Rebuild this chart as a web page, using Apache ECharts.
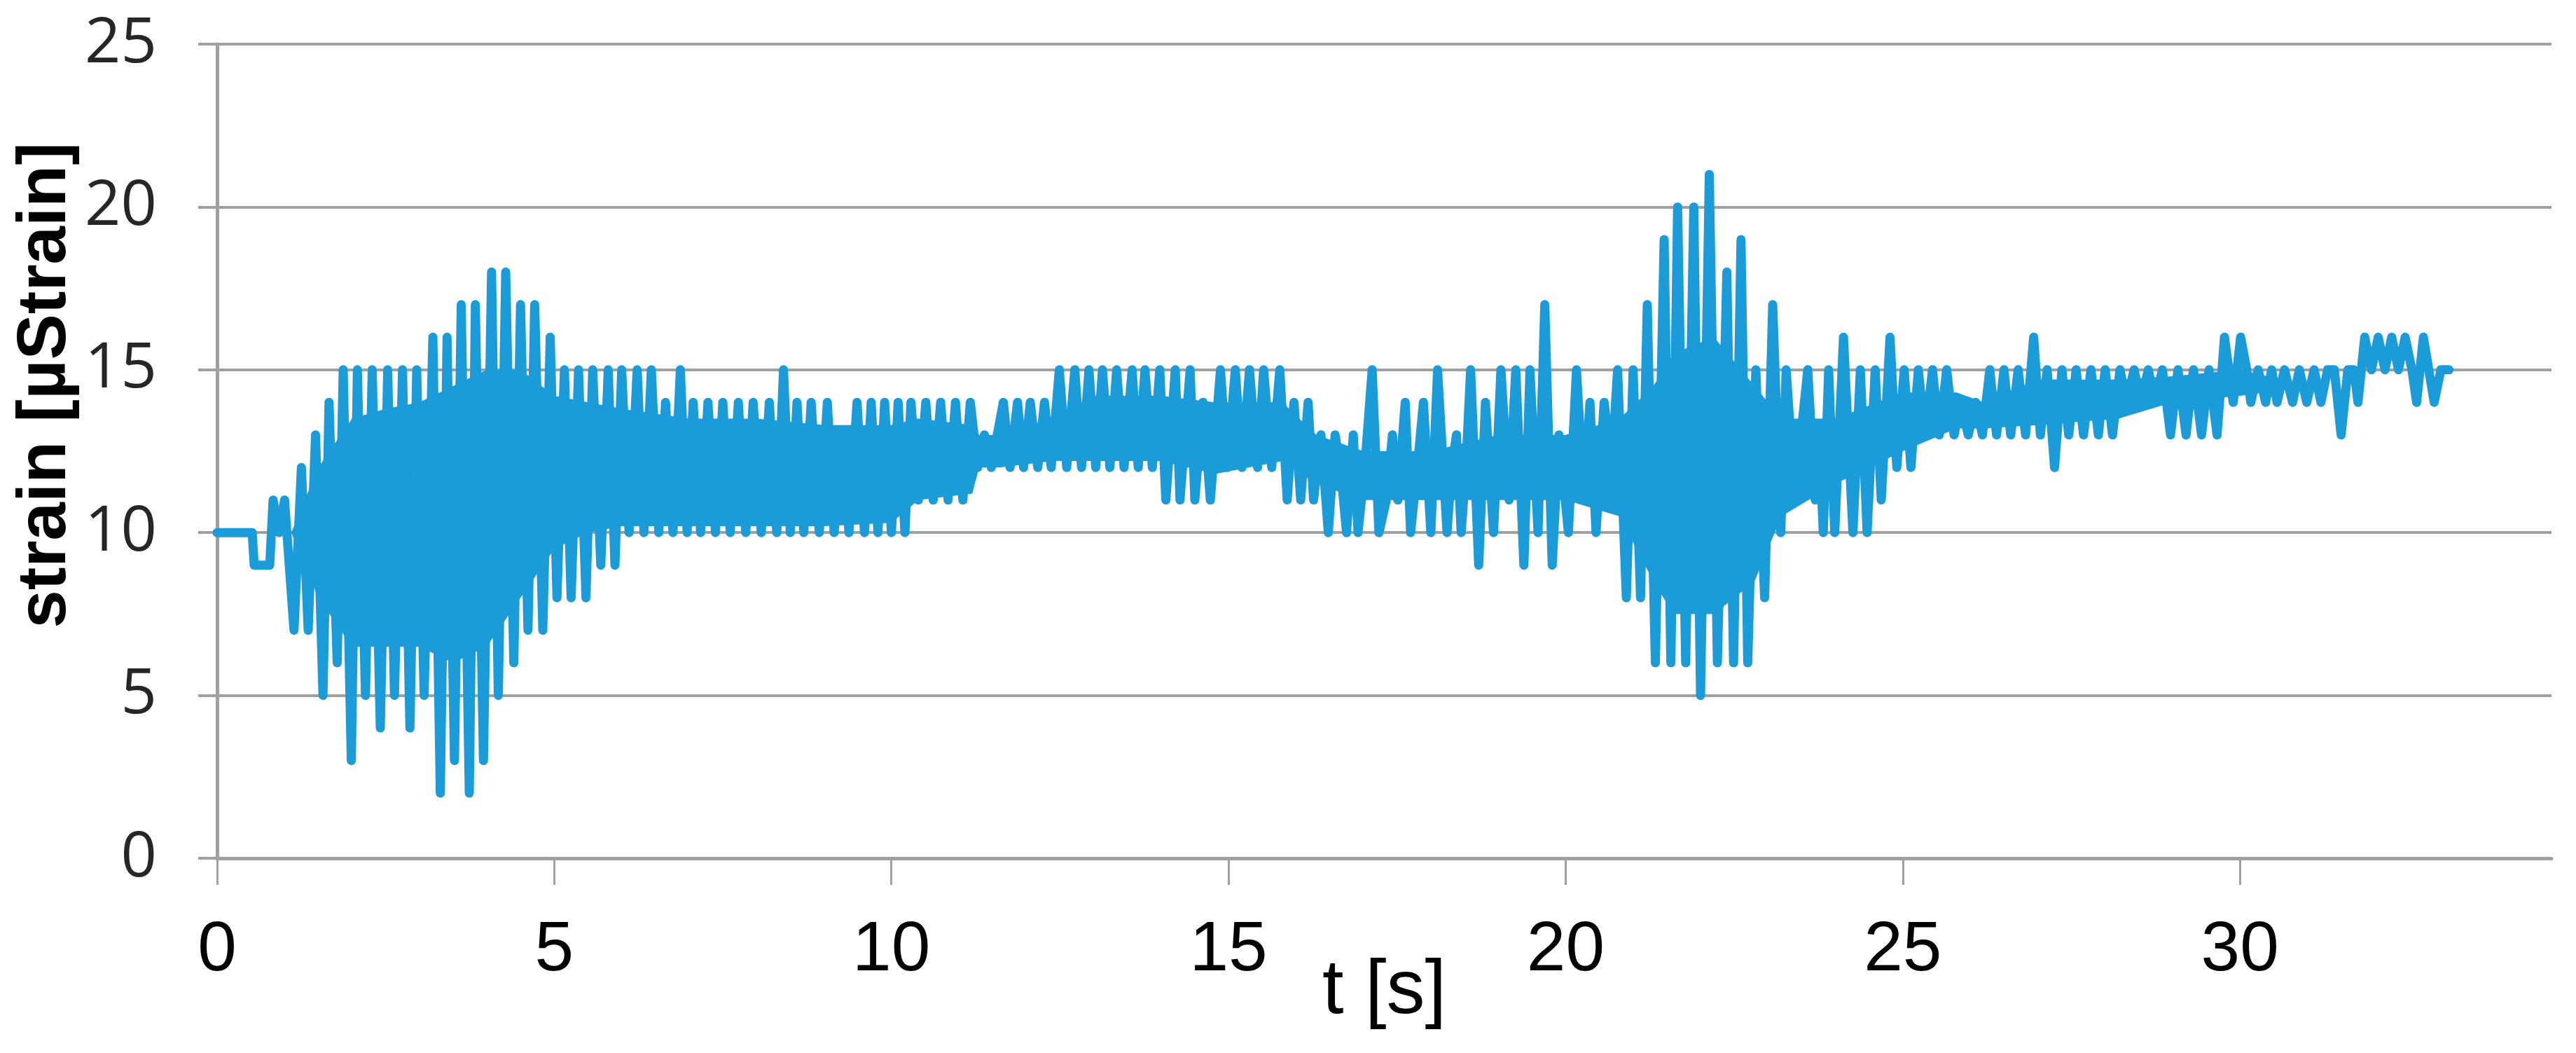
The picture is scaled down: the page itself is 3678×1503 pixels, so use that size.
<!DOCTYPE html>
<html>
<head>
<meta charset="utf-8">
<script src="https://cdn.jsdelivr.net/npm/echarts@6.0.0/dist/echarts.min.js"></script>
<style>
  html, body { margin: 0; padding: 0; background: #fff; }
  #main { width: 3678px; height: 1503px; }
</style>
</head>
<body>
<div id="main"></div>
<script>
// time [s] of each vertex
const timeS = [
  0.00, 0.52, 0.55, 0.78, 0.83, 0.92, 1.00,
  1.14, 1.25, 1.35, 1.46, 1.57, 1.66, 1.78, 1.87, 1.99, 2.08, 2.20, 2.30, 2.42, 2.53, 2.63, 2.75, 2.86, 2.96,
  3.07, 3.20, 3.31, 3.41, 3.52, 3.62, 3.74, 3.83, 3.95, 4.07, 4.17, 4.28, 4.40, 4.50, 4.61, 4.71, 4.83, 4.94,
  5.04, 5.15, 5.25, 5.36, 5.47, 5.57, 5.69, 5.80, 5.90, 6.00,
  6.11, 6.23, 6.33, 6.44, 6.55, 6.65, 6.76, 6.87, 6.97, 7.06, 7.17, 7.28, 7.39, 7.50, 7.61, 7.73, 7.84, 7.95,
  8.07, 8.19, 8.30, 8.40, 8.50, 8.60, 8.70, 8.81, 8.93, 9.05, 9.15, 9.26, 9.37, 9.49, 9.60, 9.70, 9.80, 9.90,
  10.00, 10.10, 10.20, 10.29, 10.40, 10.51, 10.62, 10.73, 10.84, 10.95, 11.06, 11.17,
  11.28, 11.38, 11.48, 11.57, 11.66, 11.76, 11.87, 11.96, 12.06, 12.17, 12.27, 12.37,
  12.49, 12.60, 12.72, 12.82, 12.93, 13.03, 13.13, 13.24, 13.34, 13.45, 13.57, 13.66, 13.76, 13.87, 13.98,
  14.07, 14.21, 14.28, 14.43, 14.50, 14.62, 14.73, 14.88, 14.98,
  15.10, 15.20, 15.31, 15.43, 15.52, 15.64, 15.76, 15.87, 15.97, 16.07, 16.18, 16.26,
  16.37, 16.48, 16.58, 16.66, 16.75, 16.85, 16.92, 17.02, 17.13, 17.23, 17.34, 17.43, 17.51, 17.62, 17.70, 17.80, 17.89,
  18.00, 18.10, 18.24, 18.31, 18.38, 18.45, 18.52, 18.59, 18.71, 18.81, 18.93,
  19.04, 19.16, 19.26, 19.38, 19.47, 19.59, 19.69, 19.80, 19.90,
  20.04, 20.16, 20.27, 20.36, 20.45, 20.57, 20.68, 20.77, 20.90,
  21.00, 21.11, 21.21, 21.33, 21.46, 21.56, 21.66, 21.78, 21.90,
  22.00, 22.13, 22.25, 22.39, 22.49, 22.60, 22.70, 22.82, 22.95,
  23.07, 23.19, 23.27, 23.40, 23.49, 23.59, 23.70, 23.76, 23.82, 23.90, 23.99,
  24.12, 24.26, 24.37, 24.47, 24.59, 24.68, 24.81, 24.91,
  25.02, 25.12, 25.23, 25.33, 25.44, 25.54, 25.65, 25.76, 25.86, 25.97,
  26.08, 26.18, 26.29, 26.39, 26.50, 26.60, 26.71, 26.82, 26.94,
  27.04, 27.14, 27.25, 27.36, 27.46, 27.57, 27.68, 27.79, 27.90,
  28.00, 28.11, 28.22, 28.32, 28.43, 28.53, 28.64, 28.74, 28.85, 28.97,
  29.08, 29.20, 29.31, 29.43, 29.54, 29.66, 29.77, 29.90,
  30.01, 30.10, 30.16, 30.27, 30.38, 30.47, 30.55, 30.66, 30.78, 30.88, 30.99,
  31.10, 31.20, 31.30, 31.40, 31.50, 31.60, 31.69, 31.75, 31.85, 31.95,
  32.05, 32.15, 32.25, 32.35, 32.45, 32.55, 32.62, 32.72, 32.80, 32.88, 32.98,
  33.10
]

// strain [µStrain] at each vertex
const strain = [
  10, 10, 9, 9, 11, 10, 11,
  7, 12, 7, 13, 5, 14, 6, 15, 3, 15, 5, 15, 4, 15, 5, 15, 4, 15,
  5, 16, 2, 16, 3, 17, 2, 17, 3, 18, 5, 18, 6, 17, 7, 17, 7, 16,
  8, 15, 8, 15, 8, 15, 9, 15, 9, 15,
  10, 15, 10, 15, 10, 14, 10, 15, 10, 14, 10, 14, 10, 14, 10, 14, 10, 14,
  10, 14, 10, 15, 10, 14, 10, 14, 10, 14, 10, 13, 10, 14, 10, 14, 10, 14,
  10, 14, 10, 14, 11, 14, 11, 14, 11, 14, 11, 14,
  12, 13, 12, 13, 14, 12, 14, 12, 14, 12, 14, 12,
  15, 12, 15, 12, 15, 12, 15, 12, 15, 12, 15, 12, 15, 12, 15,
  11, 15, 11, 15, 11, 14, 11, 15, 12,
  15, 12, 15, 12, 15, 12, 15, 11, 14, 11, 14, 11,
  13, 10, 13, 12, 10, 13, 10, 12, 15, 10, 11, 13, 11, 14, 10, 12, 14,
  10, 15, 10, 12, 13, 10, 12, 15, 9, 14, 10,
  15, 11, 15, 9, 15, 10, 17, 9, 13,
  10, 15, 11, 14, 10, 14, 12, 15, 8,
  15, 8, 17, 6, 19, 6, 20, 6, 20,
  5, 21, 6, 18, 6, 19, 6, 15, 8,
  17, 10, 15, 11, 13, 15, 11, 13, 10, 15, 10,
  16, 10, 15, 10, 15, 11, 16, 12,
  15, 12, 15, 13, 15, 13, 15, 13, 14, 13,
  14, 13, 15, 13, 15, 13, 15, 13, 16,
  13, 15, 12, 15, 13, 15, 13, 15, 13,
  15, 13, 15, 14, 15, 14, 15, 14, 15, 13,
  15, 13, 15, 13, 15, 13, 16, 14,
  16, 15, 14, 15, 14, 15, 14, 15, 14, 15, 14,
  15, 14, 15, 15, 13, 15, 15, 14, 16, 15,
  16, 15, 16, 15, 16, 15, 14, 16, 15, 14, 15,
  15
]

// the solid part of the trace where the samples are too dense to tell apart
const coreTime = [1.10, 1.50, 2.00, 2.50, 3.00, 3.50, 4.00, 4.50, 5.00, 5.50, 6.00, 7.00, 8.00, 9.00, 10.00, 10.40,
  11.20, 11.30, 11.60, 12.40, 13.00, 14.00, 14.80, 15.80, 16.30, 17.00, 18.00, 19.00, 20.00, 20.80, 21.30, 21.60,
  22.20, 22.80, 23.20, 24.00, 25.00, 25.80, 26.20, 27.00, 28.20, 29.00, 30.00, 31.00]
const coreLow = [10.0, 8.0, 6.5, 6.5, 6.5, 6.0, 6.5, 8.0, 9.5, 10.0, 10.2, 10.2, 10.2, 10.2, 10.3, 11.0,
  11.2, 12.0, 12.0, 12.2, 12.2, 12.2, 11.8, 12.2, 11.5, 11.0, 11.0, 11.0, 11.0, 10.5, 8.5, 7.5,
  7.5, 8.5, 10.5, 11.5, 12.5, 13.2, 13.2, 13.3, 13.5, 14.0, 14.2, 14.5]
const coreHigh = [10.0, 12.0, 13.5, 13.8, 14.0, 14.5, 15.0, 15.0, 14.2, 14.0, 13.8, 13.5, 13.5, 13.3, 13.3, 13.5,
  13.3, 13.0, 13.0, 13.5, 14.2, 14.2, 14.0, 14.0, 13.0, 12.5, 12.5, 13.0, 13.0, 13.5, 14.5, 15.5,
  16.0, 14.5, 13.5, 13.5, 14.3, 14.3, 14.0, 14.7, 14.7, 14.8, 15.0, 14.5]

const xTicks = [0, 5, 10, 15, 20, 25, 30]

const lineColor = '#1b9cd8'

const myChart = echarts.init(document.getElementById('main'))

const option = {
  animation: false,
  backgroundColor: '#ffffff',
  grid: {
    left: 310,
    right: 35,
    top: 63,
    bottom: 278,
    outerBoundsMode: 'none'
  },
  xAxis: {
    type: 'value',
    min: 0,
    max: 34.62,
    name: 't [s]',
    nameLocation: 'middle',
    nameGap: 136,
    nameMoveOverlap: false,
    nameTextStyle: {
      fontFamily: 'Liberation Sans',
      fontSize: 110,
      color: '#000'
    },
    axisLine: { show: true, lineStyle: { color: '#a0a0a0', width: 5 } },
    axisTick: {
      show: true,
      inside: false,
      length: 38,
      customValues: xTicks,
      lineStyle: { color: '#a0a0a0', width: 3 }
    },
    axisLabel: {
      customValues: xTicks,
      margin: 82,
      fontFamily: "'Liberation Sans Narrow', 'Arial Narrow', 'Liberation Sans'",
      fontSize: 100,
      color: '#000'
    },
    splitLine: { show: false }
  },
  yAxis: {
    type: 'value',
    min: 0,
    max: 25,
    interval: 5,
    name: 'strain [µStrain]',
    nameLocation: 'middle',
    nameGap: 195,
    nameMoveOverlap: false,
    nameTextStyle: {
      fontFamily: 'Liberation Sans',
      fontWeight: 'bold',
      fontSize: 98,
      color: '#000',
      padding: [0, 0, 0, 188]
    },
    axisLine: { show: true, lineStyle: { color: '#a0a0a0', width: 5 } },
    axisTick: {
      show: true,
      inside: false,
      length: 27,
      lineStyle: { color: '#a0a0a0', width: 4 }
    },
    axisLabel: {
      margin: 86,
      fontFamily: 'Open Sans',
      fontSize: 90,
      color: '#262626'
    },
    splitLine: { show: true, lineStyle: { color: '#a0a0a0', width: 4 } }
  },
  series: [
    {
      // dense band: one polygon from the core edges
      type: 'custom',
      silent: true,
      data: coreTime.map((t, i) => [t, coreLow[i], coreHigh[i]]),
      encode: { x: 0, y: [1, 2] },
      renderItem: function (params, api) {
        if (params.dataIndex !== 0) return null
        const pts = []
        for (let i = 0; i < coreTime.length; i++) {
          pts.push(api.coord([coreTime[i], coreHigh[i]]))
        }
        for (let i = coreTime.length - 1; i >= 0; i--) {
          pts.push(api.coord([coreTime[i], coreLow[i]]))
        }
        return {
          type: 'polygon',
          shape: { points: pts },
          style: { fill: lineColor }
        }
      }
    },
    {
      type: 'line',
      data: timeS.map((t, i) => [t, strain[i]]),
      showSymbol: false,
      sampling: null,
      z: 3,
      lineStyle: {
        color: lineColor,
        width: 13,
        join: 'round',
        cap: 'round'
      }
    }
  ]
}

myChart.setOption(option)
</script>
</body>
</html>
